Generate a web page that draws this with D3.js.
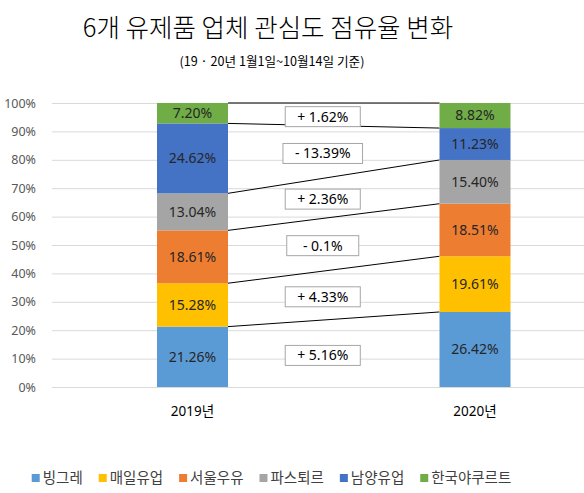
<!DOCTYPE html>
<html>
<head>
<meta charset="utf-8">
<script src="https://cdn.jsdelivr.net/npm/d3@7"></script>
<style>
  body { margin: 0; background: #fff; }
  svg { display: block; font-family: "Noto Sans", "Noto Sans CJK KR", sans-serif; }
</style>
</head>
<body>
<div id="chart"></div>
<script>
// Chart data
const years = ["2019년", "2020년"];
const companies = ["빙그레", "매일유업", "서울우유", "파스퇴르", "남양유업", "한국야쿠르트"];
const share2019 = [21.26, 15.28, 18.61, 13.04, 24.62, 7.20];
const share2020 = [26.42, 19.61, 18.51, 15.40, 11.23, 8.82];
const changeLabels = ["+ 5.16%", "+ 4.33%", "- 0.1%", "+ 2.36%", "- 13.39%", "+ 1.62%"];
const yTicks = [0, 10, 20, 30, 40, 50, 60, 70, 80, 90, 100];
const colors = ["#5B9BD5", "#FFC000", "#ED7D31", "#A5A5A5", "#4472C4", "#70AD47"];

const width = 584;
const height = 493;
const barWidth = 71;

const svg = d3.select("#chart")
    .append("svg")
    .attr("width", width)
    .attr("height", height);

// Scales
const x = d3.scalePoint()
    .domain(years)
    .range([192.5, 475]);

const y = d3.scaleLinear()
    .domain([0, 100])
    .range([387, 103]);

const color = d3.scaleOrdinal()
    .domain(companies)
    .range(colors);

// Build stacked rows, one per year
const rows = years.map((yr, i) => {
    const row = {year: yr};
    const vals = i === 0 ? share2019 : share2020;
    companies.forEach((c, j) => { row[c] = vals[j]; });
    return row;
});
const stacked = d3.stack().keys(companies)(rows);

// Title
svg.append("text")
    .attr("x", 268)
    .attr("y", 37)
    .attr("text-anchor", "middle")
    .attr("font-family", "'Noto Sans CJK KR', sans-serif")
    .attr("font-weight", 300)
    .attr("font-size", 25.5)
    .attr("fill", "#000")
    .text("6개 유제품 업체 관심도 점유율 변화");

svg.append("text")
    .attr("x", 272)
    .attr("y", 66)
    .attr("text-anchor", "middle")
    .attr("font-family", "'Noto Sans CJK KR', sans-serif")
    .attr("font-size", 12.6)
    .attr("fill", "#000")
    .text("(19 · 20년 1월1일~10월14일 기준)");

// Gridlines + y labels
const yAxis = d3.axisLeft(y)
    .tickValues(yTicks)
    .tickFormat(d => d + "%")
    .tickSize(-(width - 52))
    .tickPadding(16);

const gAxis = svg.append("g")
    .attr("transform", "translate(52,0)")
    .call(yAxis);
gAxis.select(".domain").remove();
gAxis.selectAll(".tick line").attr("stroke", "#d9d9d9");
gAxis.selectAll(".tick text")
    .attr("fill", "#595959")
    .attr("font-size", 12.5)
    .attr("font-family", "'Noto Sans', sans-serif");

// Series lines connecting the top of each segment
const seriesLines = svg.append("g");
stacked.forEach(layer => {
    seriesLines.append("line")
        .attr("x1", x(years[0]) + barWidth / 2)
        .attr("x2", x(years[1]) - barWidth / 2)
        .attr("y1", y(layer[0][1]))
        .attr("y2", y(layer[1][1]))
        .attr("stroke", "#000")
        .attr("stroke-width", 1);
});

// Bars
const layers = svg.append("g")
    .selectAll("g")
    .data(stacked)
    .join("g")
    .attr("fill", d => color(d.key));

layers.selectAll("rect")
    .data(d => d)
    .join("rect")
    .attr("x", d => x(d.data.year) - barWidth / 2)
    .attr("width", barWidth)
    .attr("y", d => y(d[1]))
    .attr("height", d => y(d[0]) - y(d[1]));

// Segment labels
const fmt = d3.format(".2f");
layers.selectAll("text")
    .data(d => d.map(v => ({v: v, key: d.key})))
    .join("text")
    .attr("x", d => x(d.v.data.year))
    .attr("y", d => (y(d.v[0]) + y(d.v[1])) / 2)
    .attr("dy", "0.35em")
    .attr("text-anchor", "middle")
    .attr("font-size", 14)
    .attr("fill", "#262626")
    .text(d => fmt(d.v[1] - d.v[0]) + "%");

// Change boxes between the bars
const midX = (x(years[0]) + x(years[1])) / 2 - 11;
const changes = svg.append("g");
stacked.forEach((layer, i) => {
    const m0 = (layer[0][0] + layer[0][1]) / 2;
    const m1 = (layer[1][0] + layer[1][1]) / 2;
    const cy = y((m0 + m1) / 2 - 0.8);
    const g = changes.append("g");
    const rect = g.append("rect")
        .attr("fill", "#fff")
        .attr("stroke", "#a6a6a6")
        .attr("stroke-width", 1);
    const t = g.append("text")
        .attr("x", midX)
        .attr("y", cy)
        .attr("dy", "0.35em")
        .attr("text-anchor", "middle")
        .attr("font-size", 14)
        .attr("fill", "#000")
        .text(changeLabels[i]);
    const w = Math.max(72, t.node().getComputedTextLength() + 24);
    rect.attr("x", midX - w / 2)
        .attr("y", cy - 10)
        .attr("width", w)
        .attr("height", 20);
});

// Category labels
svg.append("g")
    .selectAll("text")
    .data(years)
    .join("text")
    .attr("x", d => x(d))
    .attr("y", 416)
    .attr("text-anchor", "middle")
    .attr("font-size", 13.5)
    .attr("fill", "#000")
    .text(d => d);

// Legend
const legend = svg.append("g")
    .attr("font-family", "'Noto Sans CJK KR', sans-serif");
let lx = 0;
companies.forEach(c => {
    const g = legend.append("g").attr("transform", `translate(${lx},0)`);
    g.append("rect")
        .attr("x", 0)
        .attr("y", -4)
        .attr("width", 8)
        .attr("height", 8)
        .attr("fill", color(c));
    const t = g.append("text")
        .attr("x", 11)
        .attr("y", 0)
        .attr("dy", "0.35em")
        .attr("font-size", 14.5)
        .attr("fill", "#404040")
        .text(c);
    lx += 11 + t.node().getComputedTextLength() + 16;
});
const legendWidth = lx - 16;
legend.attr("transform", `translate(${271.5 - legendWidth / 2},478)`);
</script>
</body>
</html>
